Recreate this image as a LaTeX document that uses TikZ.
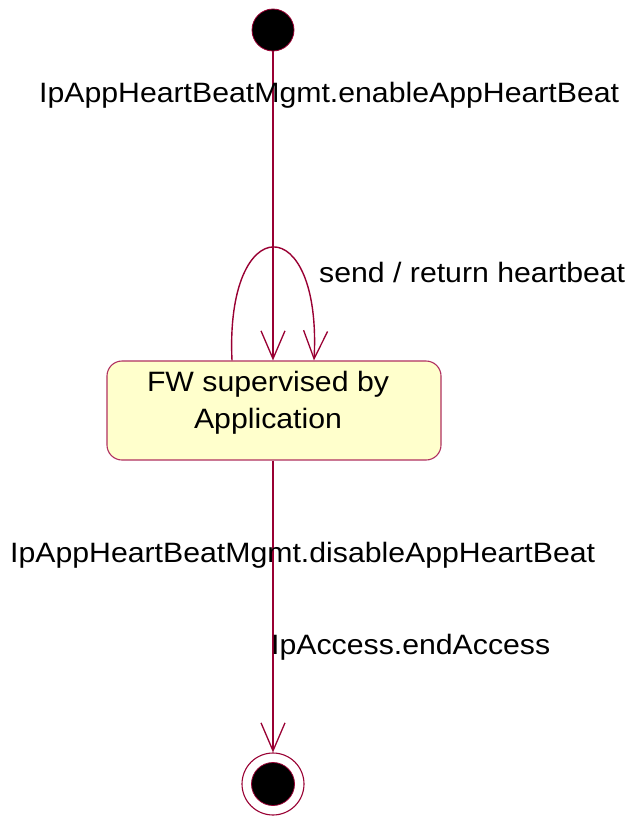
\documentclass[tikz,border=0pt]{standalone}
\usepackage{fontspec}
\setmainfont[FakeStretch=1.08]{Liberation Sans}
\usetikzlibrary{arrows.meta}
\definecolor{edgec}{HTML}{990033}
\definecolor{boxline}{HTML}{B03060}
\definecolor{boxfill}{HTML}{FFFFCC}
\tikzset{
  conn/.style={draw=edgec, line width=1.4pt, -{Straight Barb[length=28pt,width=24pt,line width=1.3pt]}},
  lbl/.style={anchor=base west, inner sep=0pt, font=\fontsize{28}{37}\selectfont},
  statebox/.style={draw=boxline, fill=boxfill, line width=1.1pt, rounded corners=15pt, minimum width=334pt, minimum height=99pt, inner sep=0pt},
}
\begin{document}
\begin{tikzpicture}[x=1pt,y=-1pt]
\useasboundingbox (0,0) rectangle (632,819);
\node[circle, fill=black, draw=edgec, line width=0.8pt, minimum size=42pt, inner sep=0pt] (s) at (273,30) {};
\node[statebox] (b) at (274,410.5) {};
\node[inner sep=0pt, anchor=base, align=center, font=\fontsize{28}{37}\selectfont] (bt) at (268,428) {FW supervised by\\Application};
\node[circle, draw=edgec, fill=white, line width=1.1pt, minimum size=62pt, inner sep=0pt] (e) at (273,784) {};
\node[circle, fill=black, draw=edgec, line width=0.8pt, minimum size=43pt, inner sep=0pt] (ei) at (273,784) {};
\draw[conn] (s.south) -- (s.south |- b.north);
\draw[conn] ([xshift=-42pt]b.north) .. controls +(-7,-151) and +(8,-151) .. ([xshift=40pt]b.north);
\draw[conn] (e.north |- b.south) -- (e.north);
\node[lbl] (l1) at (39,102) {IpAppHeartBeatMgmt.enableAppHeartBeat};
\node[lbl] (l2) at (319,282) {send / return heartbeat};
\node[lbl] (l3) at (10,562) {IpAppHeartBeatMgmt.disableAppHeartBeat};
\node[lbl] (l4) at (271,654) {IpAccess.endAccess};
\end{tikzpicture}
\end{document}
